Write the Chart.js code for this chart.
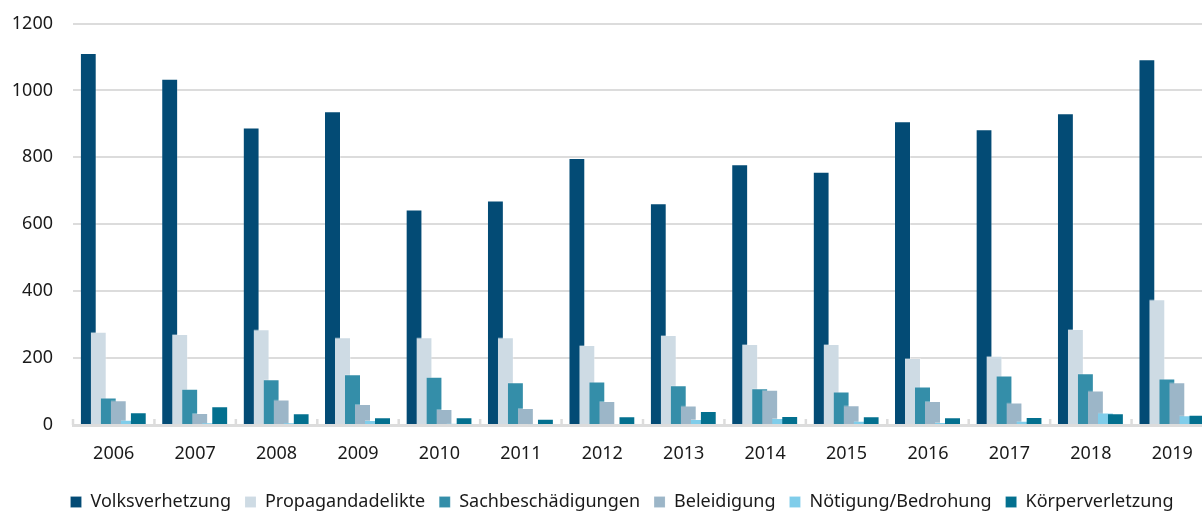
<!DOCTYPE html>
<html lang="de">
<head>
<meta charset="utf-8">
<title>Straftaten nach Deliktsart 2006–2019</title>
<script src="https://cdn.jsdelivr.net/npm/chart.js@4.4.1/dist/chart.umd.min.js"></script>
<style>
  html, body { margin: 0; padding: 0; background: #fff; overflow: hidden; }
  #wrap { width: 1216px; height: 514px; }
</style>
</head>
<body>
<div id="wrap"><canvas id="grafikDelikte"></canvas></div>
<script>
// Jahre und Fallzahlen je Deliktsart
var jahre = ["2006", "2007", "2008", "2009", "2010", "2011", "2012", "2013", "2014", "2015", "2016", "2017", "2018", "2019"];
var volksverhetzung = [1112, 1035, 889, 938, 644, 671, 798, 663, 779, 757, 908, 884, 932, 1093];
var propagandadelikte = [279, 272, 286, 262, 262, 262, 239, 269, 242, 242, 200, 207, 287, 376];
var sachbeschaedigungen = [82, 108, 137, 152, 144, 128, 130, 119, 110, 100, 115, 148, 155, 139];
var beleidigung = [74, 36, 76, 63, 48, 51, 72, 58, 105, 59, 72, 67, 103, 128];
var noetigung = [16, 7, 7, 15, 5, 2, 3, 18, 21, 13, 9, 13, 37, 29];
var koerperverletzung = [38, 56, 35, 23, 23, 19, 26, 42, 27, 26, 23, 24, 35, 31];
var yTicks = [0, 200, 400, 600, 800, 1000, 1200];

var schrift = { family: "'Noto Sans', 'Open Sans', sans-serif", size: 18 };
var textFarbe = "#1a1a1a";
var grauLinie = "#dcdcdc";

function serie(label, daten, farbe) {
  return {
    label: label,
    data: daten,
    backgroundColor: farbe,
    borderColor: "rgba(255, 255, 255, 0.3)",
    borderWidth: { top: 1, right: 1, left: 0, bottom: 0 },
    borderSkipped: "start",
    categoryPercentage: 0.737,
    barPercentage: 1.6
  };
}

// Balken von links nach rechts zeichnen, damit der rechte Nachbar oben liegt
var zeichenReihenfolge = {
  id: "zeichenReihenfolge",
  beforeDatasetsDraw: function (chart) {
    var ctx = chart.ctx;
    var area = chart.chartArea;
    ctx.save();
    ctx.beginPath();
    ctx.rect(area.left, area.top - 2, area.right - area.left, area.bottom - area.top + 2);
    ctx.clip();
    for (var i = 0; i < chart.data.datasets.length; i++) {
      var meta = chart.getDatasetMeta(i);
      if (meta.visible !== false) meta.controller.draw();
    }
    ctx.restore();
    return false;
  }
};

// kleine Trennstriche zwischen den Jahresgruppen auf der Grundlinie
var gruppenStriche = {
  id: "gruppenStriche",
  beforeDatasetsDraw: function (chart) {
    var x = chart.scales.x;
    var unten = chart.chartArea.bottom;
    var halb = (x.getPixelForValue(1) - x.getPixelForValue(0)) / 2;
    var ctx = chart.ctx;
    ctx.save();
    ctx.strokeStyle = grauLinie;
    ctx.lineWidth = 2.5;
    for (var i = 0; i <= jahre.length; i++) {
      var px = x.getPixelForValue(i) - halb;
      ctx.beginPath();
      ctx.moveTo(px, unten);
      ctx.lineTo(px, unten - 6);
      ctx.stroke();
    }
    ctx.restore();
  }
};

// Legende etwas nach rechts ruecken
var legendeVersatz = {
  id: "legendeVersatz",
  afterLayout: function (chart) {
    chart.legend.left += 20;
  }
};

Chart.defaults.font = schrift;
Chart.defaults.color = textFarbe;

new Chart(document.getElementById("grafikDelikte"), {
  type: "bar",
  data: {
    labels: jahre,
    datasets: [
      serie("Volksverhetzung", volksverhetzung, "#034b75"),
      serie("Propagandadelikte", propagandadelikte, "#cedbe4"),
      serie("Sachbeschädigungen", sachbeschaedigungen, "#348ea9"),
      serie("Beleidigung", beleidigung, "#9cb6c8"),
      serie("Nötigung/Bedrohung", noetigung, "#80cdea"),
      serie("Körperverletzung", koerperverletzung, "#03708f")
    ]
  },
  plugins: [gruppenStriche, zeichenReihenfolge, legendeVersatz],
  options: {
    responsive: true,
    maintainAspectRatio: false,
    animation: false,
    layout: { padding: { top: 23.5, right: 3, left: 11, bottom: -7 } },
    plugins: {
      legend: {
        position: "bottom",
        labels: {
          boxWidth: 11,
          boxHeight: 11,
          padding: 14,
          color: textFarbe,
          font: schrift
        }
      },
      tooltip: { enabled: false }
    },
    scales: {
      x: {
        grid: { display: false },
        border: { display: true, color: grauLinie, width: 3 },
        ticks: { padding: 10, color: textFarbe, font: schrift },
        afterFit: function (scale) { scale.height = 54; }
      },
      y: {
        min: 0,
        max: 1200,
        afterBuildTicks: function (scale) {
          scale.ticks = yTicks.map(function (v) { return { value: v }; });
        },
        afterFit: function (scale) {
          scale.width = 62;
          scale.paddingTop = 0;
          scale.paddingBottom = 0;
        },
        grid: { color: grauLinie, lineWidth: 2, drawTicks: false },
        border: { display: false },
        ticks: {
          padding: 20,
          color: textFarbe,
          font: schrift,
          callback: function (wert) { return String(wert); }
        }
      }
    }
  }
});
</script>
</body>
</html>
